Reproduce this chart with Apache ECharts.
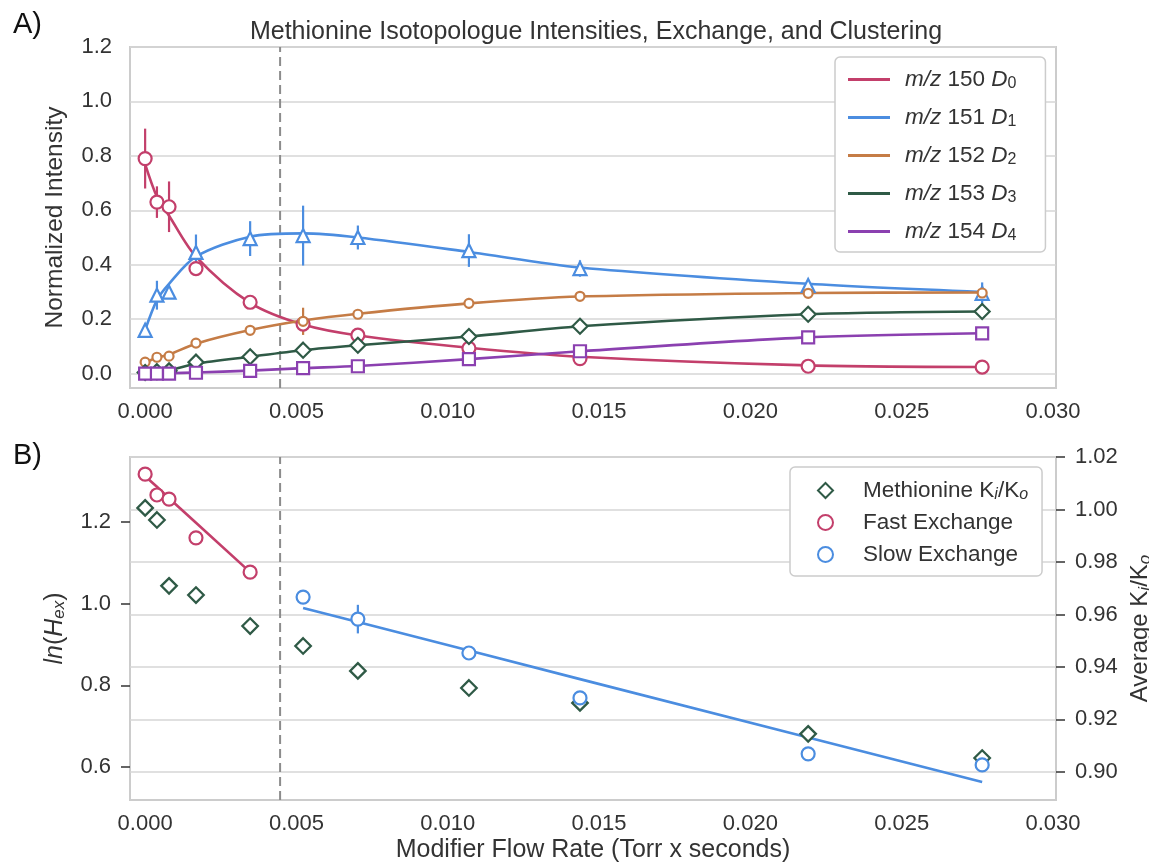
<!DOCTYPE html>
<html><head><meta charset="utf-8">
<script src="https://cdn.jsdelivr.net/npm/echarts@6/dist/echarts.min.js"></script>
<style>html,body{margin:0;padding:0;background:#fff}#c{width:1149px;height:865px}</style>
</head><body><div id="c"></div>
<script>
// ---------- data ----------
const flow = [0.0000, 0.00039, 0.00079, 0.00168, 0.00347, 0.00522, 0.00703, 0.0107, 0.01437, 0.02191, 0.02766];
const mzLabels = ['150', '151', '152', '153', '154'];
const dNames = ['D0', 'D1', 'D2', 'D3', 'D4'];

const d0 = [0.79, 0.63, 0.613, 0.386, 0.262, 0.182, 0.141, 0.093, 0.055, 0.027, 0.024];
const d0Err = [0.11, 0.058, 0.093, 0.02, 0.015, 0.03, 0.012, 0.01, 0.01, 0.005, 0.005];
const d0Fit = [0.77, 0.65, 0.58, 0.43, 0.26, 0.18, 0.14, 0.095, 0.062, 0.03, 0.024];

const d1 = [0.159, 0.288, 0.299, 0.445, 0.496, 0.507, 0.50, 0.452, 0.386, 0.324, 0.295];
const d1Err = [0.02, 0.053, 0.02, 0.066, 0.064, 0.11, 0.044, 0.06, 0.03, 0.02, 0.04];
const d1Fit = [0.16, 0.27, 0.33, 0.43, 0.503, 0.515, 0.50, 0.447, 0.39, 0.33, 0.30];

const d2 = [0.042, 0.06, 0.064, 0.112, 0.159, 0.192, 0.218, 0.258, 0.284, 0.295, 0.296];
const d2Err = [0.01, 0.01, 0.01, 0.012, 0.01, 0.05, 0.01, 0.02, 0.015, 0.01, 0.02];
const d2Fit = [0.04, 0.058, 0.07, 0.11, 0.16, 0.195, 0.22, 0.258, 0.283, 0.296, 0.298];

const d3 = [0.004, 0.007, 0.01, 0.042, 0.062, 0.086, 0.104, 0.136, 0.174, 0.218, 0.228];
const d3Err = [0.005, 0.005, 0.005, 0.005, 0.005, 0.005, 0.005, 0.005, 0.005, 0.005, 0.005];
const d3Fit = [0.004, 0.008, 0.012, 0.036, 0.062, 0.086, 0.104, 0.136, 0.174, 0.218, 0.228];

const d4 = [0.0, 0.0, 0.0, 0.003, 0.01, 0.02, 0.027, 0.053, 0.082, 0.133, 0.148];
const d4Err = [0.004, 0.004, 0.004, 0.004, 0.004, 0.004, 0.004, 0.004, 0.004, 0.004, 0.004];
const d4Fit = [0.0, 0.0, 0.001, 0.004, 0.011, 0.02, 0.028, 0.053, 0.082, 0.133, 0.148];

// panel B
const kiKo = [1.0006, 0.996, 0.9709, 0.9674, 0.9556, 0.948, 0.9385, 0.932, 0.9263, 0.9145, 0.9053];
const fastX = [0.0000, 0.00039, 0.00079, 0.00168, 0.00347];
const fast = [1.317, 1.266, 1.256, 1.161, 1.077];
const fastFit = [1.312, 1.286, 1.258, 1.198, 1.077];
const slowX = [0.00522, 0.00703, 0.0107, 0.01437, 0.02191, 0.02766];
const slow = [1.016, 0.962, 0.879, 0.769, 0.632, 0.605];
const slowErr = [0, 0.035, 0, 0, 0, 0];
const slowFit = [0.989, 0.955, 0.885, 0.815, 0.672, 0.563];

const dashX = 0.00446;
const xTicks = [0, 0.005, 0.010, 0.015, 0.020, 0.025, 0.030];
const yTopTicks = [0, 0.2, 0.4, 0.6, 0.8, 1.0, 1.2];
const yLnTicks = [0.6, 0.8, 1.0, 1.2];
const yKTicks = [0.90, 0.92, 0.94, 0.96, 0.98, 1.00, 1.02];

// axis ranges
const X_MIN = -0.0005, X_MAX = 0.0301;
const YT_MIN = -0.053, YT_MAX = 1.2;
const YL_MIN = 0.519, YL_MAX = 1.359;
const YR_MIN = 0.8893, YR_MAX = 1.02;

// ---------- style ----------
const FONT = '"Liberation Sans", Arial, sans-serif';
const TXT = '#333333';
const TICK_FS = 22, LEG_FS = 22.5, NAME_FS = 25;
const colors = ['#c33f6b', '#4b8de0', '#c57c46', '#2f5a46', '#8b40b0'];
const symbols = ['circle', 'triangle', 'circle', 'diamond', 'rect'];
const symSizes = [13, 13, 9, 15, 12];
const tops = [[d0, d0Err, d0Fit], [d1, d1Err, d1Fit], [d2, d2Err, d2Fit], [d3, d3Err, d3Fit], [d4, d4Err, d4Fit]];

const pairs = (xa, ya) => xa.map((x, i) => [x, ya[i]]);

function errSeries(xa, ya, ea, color, xi, yi) {
  return {
    type: 'custom', xAxisIndex: xi, yAxisIndex: yi, silent: true, z: 3,
    data: xa.map((x, i) => [x, ya[i], ea[i]]),
    encode: { x: 0, y: 1 },
    renderItem: (p, api) => {
      const x = api.value(0), y = api.value(1), e = api.value(2);
      const a = api.coord([x, y - e]), b = api.coord([x, y + e]);
      return { type: 'line', shape: { x1: a[0], y1: a[1], x2: b[0], y2: b[1] },
        style: { stroke: color, lineWidth: 2.2 } };
    }
  };
}

function dashSeries(xi, yi, y0, y1) {
  return {
    type: 'line', name: 'dash' + xi, xAxisIndex: xi, yAxisIndex: yi, silent: true,
    data: [[dashX, y0], [dashX, y1]], showSymbol: false, symbol: 'none',
    lineStyle: { color: '#8c8c8c', type: [9, 5], width: 2 }, z: 1
  };
}

const series = [];
series.push(dashSeries(0, 0, YT_MIN, YT_MAX));
tops.forEach((t, k) => {
  series.push({
    type: 'line', name: dNames[k], xAxisIndex: 0, yAxisIndex: 0,
    data: pairs(flow, t[2]), showSymbol: false, symbol: 'none', smooth: 0.3,
    lineStyle: { color: colors[k], width: 2.6 }, itemStyle: { color: colors[k] }, z: 2
  });
  series.push(errSeries(flow, t[0], t[1], colors[k], 0, 0));
  series.push({
    type: 'scatter', name: 'pts' + k, xAxisIndex: 0, yAxisIndex: 0,
    data: pairs(flow, t[0]), symbol: symbols[k], symbolSize: symSizes[k],
    itemStyle: { color: '#ffffff', borderColor: colors[k], borderWidth: 2.2, opacity: 1 }, z: 4
  });
});

// panel B
series.push(dashSeries(1, 1, YL_MIN, YL_MAX));
series.push({
  type: 'line', name: 'fastFit', xAxisIndex: 1, yAxisIndex: 1, data: pairs(fastX, fastFit),
  showSymbol: false, symbol: 'none', lineStyle: { color: colors[0], width: 2.6 }, z: 2
});
series.push({
  type: 'line', name: 'slowFit', xAxisIndex: 1, yAxisIndex: 1, data: pairs(slowX, slowFit),
  showSymbol: false, symbol: 'none', lineStyle: { color: colors[1], width: 2.6 }, z: 2
});
series.push(errSeries(slowX, slow, slowErr, colors[1], 1, 1));
series.push({
  type: 'scatter', name: 'Methionine', xAxisIndex: 1, yAxisIndex: 2, data: pairs(flow, kiKo),
  symbol: 'diamond', symbolSize: 15.5,
  itemStyle: { color: '#ffffff', borderColor: colors[3], borderWidth: 2.3, opacity: 1 }, z: 4
});
series.push({
  type: 'scatter', name: 'Fast Exchange', xAxisIndex: 1, yAxisIndex: 1, data: pairs(fastX, fast),
  symbol: 'circle', symbolSize: 13,
  itemStyle: { color: '#ffffff', borderColor: colors[0], borderWidth: 2.2, opacity: 1 }, z: 4
});
series.push({
  type: 'scatter', name: 'Slow Exchange', xAxisIndex: 1, yAxisIndex: 1, data: pairs(slowX, slow),
  symbol: 'circle', symbolSize: 13,
  itemStyle: { color: '#ffffff', borderColor: colors[1], borderWidth: 2.2, opacity: 1 }, z: 4
});

const richBase = {
  i: { fontSize: LEG_FS, fontStyle: 'italic', color: TXT, fontFamily: FONT },
  n: { fontSize: LEG_FS, color: TXT, fontFamily: FONT },
  sub: { fontSize: 16, color: TXT, fontFamily: FONT, padding: [9, 0, 0, 0] },
  subi: { fontSize: 16, fontStyle: 'italic', color: TXT, fontFamily: FONT, padding: [9, 0, 0, 0] }
};
const richName = (fs) => ({
  i: { fontSize: fs, fontStyle: 'italic', color: TXT, fontFamily: FONT },
  n: { fontSize: fs, color: TXT, fontFamily: FONT },
  sub: { fontSize: 17, color: TXT, fontFamily: FONT, fontStyle: 'italic', padding: [9, 0, 0, 0] }
});

const xAxisBase = (gi) => ({
  gridIndex: gi, type: 'value', min: X_MIN, max: X_MAX, position: 'bottom',
  axisLine: { show: false, onZero: false },
  axisTick: { show: false, customValues: xTicks },
  axisLabel: { customValues: xTicks, formatter: v => v.toFixed(3), fontSize: TICK_FS, color: TXT, fontFamily: FONT, margin: 13 },
  splitLine: { show: false }
});

const gridBase = { left: 130, right: 93, show: true, borderColor: '#cccccc', borderWidth: 2,
  backgroundColor: 'transparent', containLabel: false, outerBoundsMode: 'none' };

const option = {
  animation: false,
  backgroundColor: '#ffffff',
  textStyle: { fontFamily: FONT },
  title: [
    { text: 'Methionine Isotopologue Intensities, Exchange, and Clustering', left: 591, top: 15, textAlign: 'center',
      textStyle: { fontSize: 25, fontWeight: 'normal', color: TXT, fontFamily: FONT } },
    { text: 'A)', left: 8, top: 5, textStyle: { fontSize: 29, fontWeight: 'normal', color: '#111', fontFamily: FONT } },
    { text: 'B)', left: 8, top: 436, textStyle: { fontSize: 29, fontWeight: 'normal', color: '#111', fontFamily: FONT } }
  ],
  grid: [
    Object.assign({ top: 47, height: 341 }, gridBase),
    Object.assign({ top: 457, height: 343 }, gridBase)
  ],
  legend: [
    {
      data: dNames, orient: 'vertical', left: 835, top: 57,
      icon: 'rect', itemWidth: 42, itemHeight: 3, itemGap: 13,
      padding: [10, 29, 8, 13],
      backgroundColor: '#ffffff', borderColor: '#cccccc', borderWidth: 1.5, borderRadius: 5,
      textStyle: { fontSize: LEG_FS, color: TXT, fontFamily: FONT, lineHeight: 25, padding: [0, 0, 0, 10], rich: richBase },
      formatter: name => {
        const k = dNames.indexOf(name);
        return '{i|m/z}{n| ' + mzLabels[k] + ' }{i|D}{sub|' + k + '}';
      }
    },
    {
      data: ['Methionine', 'Fast Exchange', 'Slow Exchange'], orient: 'vertical', left: 790, top: 467,
      itemWidth: 15, itemHeight: 15, itemGap: 7,
      padding: [11, 14, 9, 27],
      backgroundColor: '#ffffff', borderColor: '#cccccc', borderWidth: 1.5, borderRadius: 5,
      textStyle: { fontSize: LEG_FS, color: TXT, fontFamily: FONT, lineHeight: 25, padding: [0, 0, 0, 25], rich: richBase },
      formatter: name => name === 'Methionine' ? '{n|Methionine K}{subi|i}{n|/K}{subi|o}' : name
    }
  ],
  xAxis: [
    xAxisBase(0),
    Object.assign(xAxisBase(1), {
      name: 'Modifier Flow Rate (Torr x seconds)', nameLocation: 'middle', nameGap: 38,
      nameTextStyle: { fontSize: NAME_FS, color: TXT, fontFamily: FONT }
    })
  ],
  yAxis: [
    {
      gridIndex: 0, type: 'value', min: YT_MIN, max: YT_MAX, position: 'left',
      axisLine: { show: false, onZero: false },
      axisTick: { show: false, customValues: yTopTicks },
      axisLabel: { customValues: yTopTicks, formatter: v => v.toFixed(1), fontSize: TICK_FS, color: TXT, fontFamily: FONT, margin: 18 },
      splitLine: { show: true, lineStyle: { color: '#d6d6d6', width: 1.5 } },
      name: 'Normalized Intensity', nameLocation: 'middle', nameGap: 62,
      nameTextStyle: { fontSize: 24.5, color: TXT, fontFamily: FONT }
    },
    {
      gridIndex: 1, type: 'value', min: YL_MIN, max: YL_MAX, position: 'left',
      axisLine: { show: false, onZero: false },
      axisTick: { show: true, customValues: yLnTicks, length: 9, lineStyle: { color: '#333', width: 1.5 } },
      axisLabel: { customValues: yLnTicks, formatter: v => v.toFixed(1), fontSize: TICK_FS, color: TXT, fontFamily: FONT, margin: 19 },
      splitLine: { show: false },
      name: '{i|ln}{n|(}{i|H}{sub|ex}{n|)}', nameLocation: 'middle', nameGap: 62,
      nameTextStyle: { fontSize: NAME_FS, color: TXT, fontFamily: FONT, rich: richName(NAME_FS) }
    },
    {
      gridIndex: 1, type: 'value', min: YR_MIN, max: YR_MAX, position: 'right',
      axisLine: { show: false, onZero: false },
      axisTick: { show: true, customValues: yKTicks, length: 9, lineStyle: { color: '#333', width: 1.5 } },
      axisLabel: { customValues: yKTicks, formatter: v => v.toFixed(2), fontSize: TICK_FS, color: TXT, fontFamily: FONT, margin: 19 },
      splitLine: { show: true, lineStyle: { color: '#d6d6d6', width: 1.5 } },
      name: '{n|Average K}{sub|i}{n|/K}{sub|o}', nameLocation: 'middle', nameGap: 63, nameRotate: 90,
      nameTextStyle: { fontSize: 24, color: TXT, fontFamily: FONT, rich: richName(24) }
    }
  ],
  series: series
};

const chart = echarts.init(document.getElementById('c'), null, { renderer: 'canvas' });
chart.setOption(option);
</script>
</body></html>
